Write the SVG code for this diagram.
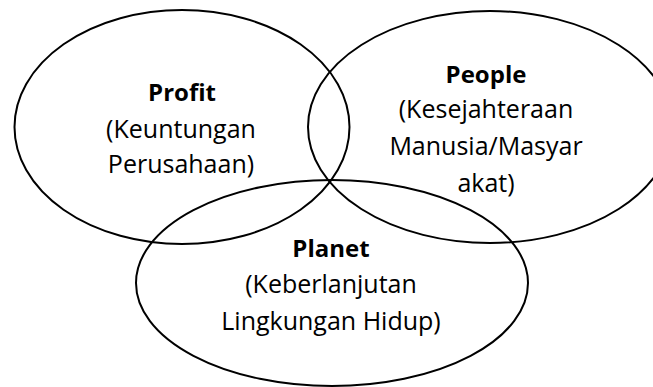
<svg xmlns="http://www.w3.org/2000/svg" width="653" height="387" viewBox="0 0 653 387">
<style>
.ring{fill:none;stroke:#000;stroke-width:2}
.t{font-family:"Open Sans","Liberation Sans",sans-serif;font-size:25px;fill:#000;text-anchor:middle}
.b{font-weight:bold;font-size:24px}
</style>
<rect width="653" height="387" fill="#fff"/>
<g id="connectors"></g>
<g id="profit">
<ellipse class="ring" cx="182" cy="127" rx="167.5" ry="117"/>
<text class="t b" x="182" y="101">Profit</text>
<text class="t" x="181" y="138">(Keuntungan</text>
<text class="t" x="181" y="173">Perusahaan)</text>
</g>
<g id="people">
<ellipse class="ring" cx="490" cy="127" rx="182" ry="116"/>
<text class="t b" x="486" y="83">People</text>
<text class="t" x="486" y="118">(Kesejahteraan</text>
<text class="t" x="486" y="155">Manusia/Masyar</text>
<text class="t" x="486" y="192">akat)</text>
</g>
<g id="planet">
<ellipse class="ring" cx="332" cy="283" rx="196" ry="103"/>
<text class="t b" x="331" y="257">Planet</text>
<text class="t" x="331" y="293">(Keberlanjutan</text>
<text class="t" x="331" y="330">Lingkungan Hidup)</text>
</g>
</svg>
